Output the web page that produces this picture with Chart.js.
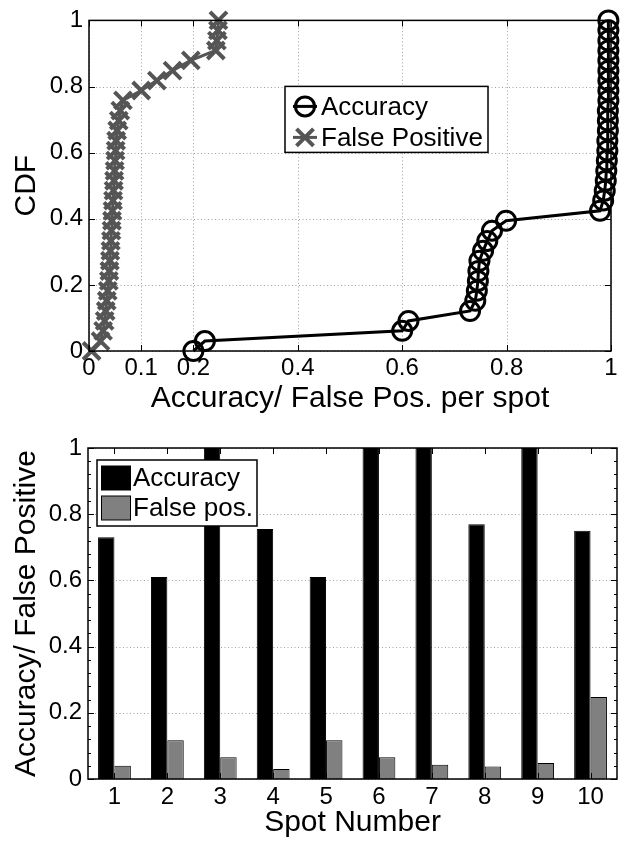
<!DOCTYPE html>
<html>
<head>
<meta charset="utf-8">
<script src="https://cdn.jsdelivr.net/npm/chart.js@4.4.1/dist/chart.umd.min.js"></script>
<style>
  html, body { margin:0; padding:0; background:#fff; }
  #wrap { position:relative; width:627px; height:841px; }
  canvas { position:absolute; left:0; }
  #cdf { top:0; }
  #bars { top:417px; }
</style>
</head>
<body>
<div id="wrap">
  <canvas id="cdf" width="627" height="417"></canvas>
  <canvas id="bars" width="627" height="424"></canvas>
</div>
<script>
// --- top plot: CDF of accuracy / false positives per spot
const CDF_LEVELS = [0, 0.03, 0.061, 0.091, 0.121, 0.152, 0.182, 0.212, 0.242, 0.273, 0.303, 0.333,
  0.364, 0.394, 0.424, 0.455, 0.485, 0.515, 0.545, 0.576, 0.606, 0.636, 0.667, 0.697, 0.727,
  0.758, 0.788, 0.818, 0.848, 0.879, 0.909, 0.939, 0.97, 1];
const ACC_X = [0.20, 0.222, 0.60, 0.612, 0.730, 0.740, 0.743, 0.745, 0.746, 0.748, 0.755, 0.763,
  0.772, 0.799, 0.979, 0.985, 0.988, 0.990, 0.991, 0.992, 0.993, 0.993, 0.994, 0.994, 0.994,
  0.995, 0.995, 0.995, 0.995, 0.995, 0.995, 0.995, 0.995, 0.995];
const FP_X = [0.005, 0.022, 0.027, 0.030, 0.032, 0.034, 0.036, 0.038, 0.039, 0.040, 0.041, 0.042,
  0.043, 0.044, 0.045, 0.046, 0.047, 0.048, 0.049, 0.050, 0.051, 0.052, 0.054, 0.057, 0.060,
  0.065, 0.100, 0.130, 0.160, 0.195, 0.243, 0.245, 0.247, 0.248];
const CDF_X_TICKS = [0, 0.1, 0.2, 0.4, 0.6, 0.8, 1];
const Y_TICKS = [0, 0.2, 0.4, 0.6, 0.8, 1];

// --- bottom plot: per spot values
const SPOTS = ['1', '2', '3', '4', '5', '6', '7', '8', '9', '10'];
const ACCURACY = [0.73, 0.61, 1.0, 0.755, 0.61, 1.0, 1.0, 0.77, 1.0, 0.75];
const FALSE_POS = [0.04, 0.117, 0.066, 0.03, 0.117, 0.066, 0.043, 0.038, 0.048, 0.248];

const FONT = "'Liberation Sans', Arial, Helvetica, sans-serif";
Chart.defaults.font.family = FONT;
Chart.defaults.color = '#000';

function el(id){ return document.getElementById(id); }
function fmt(v){ return String(Math.round(v * 100) / 100); }

// matlab-ish axes: dotted grid, box frame, inward ticks
const matlabAxes = {
  id: 'matlabAxes',
  beforeDatasetsDraw(chart, args, o) {
    const {ctx, chartArea: a, scales} = chart;
    ctx.save();
    ctx.strokeStyle = '#a0a0a0';
    ctx.lineWidth = 1;
    ctx.setLineDash([1, 2.5]);
    ctx.beginPath();
    if (o.xGrid) scales.x.ticks.forEach((t, i) => {
      const px = Math.round(scales.x.getPixelForTick(i)) + 0.5;
      ctx.moveTo(px, a.top); ctx.lineTo(px, a.bottom);
    });
    scales.y.ticks.forEach((t, i) => {
      const py = Math.round(scales.y.getPixelForTick(i)) + 0.5;
      ctx.moveTo(a.left, py); ctx.lineTo(a.right, py);
    });
    ctx.stroke();
    ctx.restore();
  },
  afterDatasetsDraw(chart, args, o) {
    const {ctx, chartArea: a, scales} = chart;
    ctx.save();
    ctx.strokeStyle = '#000';
    ctx.lineWidth = 1.5;
    ctx.strokeRect(a.left, a.top, a.right - a.left, a.bottom - a.top);
    ctx.lineWidth = 1;
    ctx.beginPath();
    const L = 6;
    scales.x.ticks.forEach((t, i) => {
      const px = Math.round(scales.x.getPixelForTick(i)) + 0.5;
      ctx.moveTo(px, a.top); ctx.lineTo(px, a.top + L);
      ctx.moveTo(px, a.bottom); ctx.lineTo(px, a.bottom - L);
    });
    scales.y.ticks.forEach((t, i) => {
      const py = Math.round(scales.y.getPixelForTick(i)) + 0.5;
      ctx.moveTo(a.left, py); ctx.lineTo(a.left + L, py);
      ctx.moveTo(a.right, py); ctx.lineTo(a.right - L, py);
    });
    if (o.yMinor) {
      for (let v = scales.y.min; v < scales.y.max; v += o.yMinor) {
        const py = Math.round(scales.y.getPixelForValue(v)) + 0.5;
        ctx.moveTo(a.left, py); ctx.lineTo(a.left + 3, py);
        ctx.moveTo(a.right, py); ctx.lineTo(a.right - 3, py);
      }
    }
    ctx.stroke();
    ctx.restore();
  }
};

// legend box inside the axes
const boxLegend = {
  id: 'boxLegend',
  afterDraw(chart, args, o) {
    const {ctx, chartArea: a} = chart;
    const x0 = a.left + o.dx, y0 = a.top + o.dy;
    ctx.save();
    ctx.fillStyle = '#fff';
    ctx.fillRect(x0, y0, o.w, o.h);
    ctx.strokeStyle = '#000';
    ctx.lineWidth = 1.5;
    ctx.strokeRect(x0, y0, o.w, o.h);
    chart.data.datasets.forEach((ds, i) => {
      const cy = y0 + o.rowTop + i * o.rowGap;
      const mx = x0 + o.markerX;
      if (o.kind === 'bar') {
        ctx.fillStyle = ds.backgroundColor;
        ctx.fillRect(mx - 14.5, cy - 12, 29, 24);
        ctx.lineWidth = 1;
        ctx.strokeStyle = '#000';
        ctx.strokeRect(mx - 14.5, cy - 12, 29, 24);
      } else {
        ctx.strokeStyle = ds.borderColor;
        ctx.lineWidth = 3;
        ctx.beginPath();
        ctx.moveTo(mx - 12, cy); ctx.lineTo(mx + 12, cy);
        ctx.stroke();
        ctx.lineWidth = ds.pointBorderWidth;
        ctx.beginPath();
        if (ds.pointStyle === 'circle') {
          ctx.arc(mx, cy, ds.pointRadius, 0, Math.PI * 2);
        } else {
          const d = ds.pointRadius * Math.SQRT1_2;
          ctx.moveTo(mx - d, cy - d); ctx.lineTo(mx + d, cy + d);
          ctx.moveTo(mx - d, cy + d); ctx.lineTo(mx + d, cy - d);
        }
        ctx.stroke();
      }
      ctx.fillStyle = '#000';
      ctx.font = '26px ' + FONT;
      ctx.textAlign = 'left';
      ctx.textBaseline = 'middle';
      ctx.fillText(ds.label, x0 + o.textX, cy + 1);
    });
    ctx.restore();
  }
};

new Chart(el('cdf'), {
  type: 'scatter',
  data: {
    datasets: [
      {
        label: 'Accuracy',
        data: ACC_X.map((x, i) => ({x, y: CDF_LEVELS[i]})),
        showLine: true, borderColor: '#000', borderWidth: 3,
        pointStyle: 'circle', pointRadius: 9.5, pointBorderWidth: 3,
        pointBorderColor: '#000', pointBackgroundColor: 'rgba(0,0,0,0)',
        clip: false
      },
      {
        label: 'False Positive',
        data: FP_X.map((x, i) => ({x, y: CDF_LEVELS[i]})),
        showLine: true, borderColor: '#555', borderWidth: 3,
        pointStyle: 'crossRot', pointRadius: 12, pointBorderWidth: 4,
        pointBorderColor: '#555', pointBackgroundColor: '#555',
        clip: false
      }
    ]
  },
  options: {
    responsive: false,
    animation: false,
    layout: { padding: { top: 20, right: 9, left: 0, bottom: 0 } },
    plugins: {
      legend: { display: false },
      tooltip: { enabled: false },
      matlabAxes: { xGrid: true },
      boxLegend: { kind: 'line', dx: 196, dy: 66, w: 203, h: 66, rowTop: 20, rowGap: 31, markerX: 20, textX: 36 }
    },
    scales: {
      x: {
        type: 'linear', min: 0, max: 1,
        afterBuildTicks: s => { s.ticks = CDF_X_TICKS.map(v => ({value: v})); },
        afterFit: s => { s.height = 66; },
        grid: { display: false, drawTicks: false },
        border: { display: false },
        ticks: { autoSkip: false, maxRotation: 0, padding: 3, font: { size: 24 }, callback: v => fmt(v) },
        title: { display: true, text: 'Accuracy/ False Pos. per spot', font: { size: 30 }, padding: 0 }
      },
      y: {
        min: 0, max: 1,
        afterBuildTicks: s => { s.ticks = Y_TICKS.map(v => ({value: v})); },
        afterFit: s => { s.width = 89; },
        grid: { display: false, drawTicks: false },
        border: { display: false },
        ticks: { padding: 6, font: { size: 24 }, callback: v => fmt(v) },
        title: { display: true, text: 'CDF', font: { size: 30 }, padding: { top: 9, bottom: 0 } }
      }
    }
  },
  plugins: [matlabAxes, boxLegend]
});

new Chart(el('bars'), {
  type: 'bar',
  data: {
    labels: SPOTS,
    datasets: [
      { label: 'Accuracy', data: ACCURACY, backgroundColor: '#000', borderColor: '#000', borderWidth: 1 },
      { label: 'False pos.', data: FALSE_POS, backgroundColor: '#808080', borderColor: '#000', borderWidth: 1 }
    ]
  },
  options: {
    responsive: false,
    animation: false,
    datasets: { bar: { categoryPercentage: 0.62, barPercentage: 1 } },
    layout: { padding: { top: 31, right: 10, left: 0, bottom: 0 } },
    plugins: {
      legend: { display: false },
      tooltip: { enabled: false },
      matlabAxes: { xGrid: false, yMinor: 0.04 },
      boxLegend: { kind: 'bar', dx: 9, dy: 12, w: 160, h: 66, rowTop: 18, rowGap: 30, markerX: 19, textX: 36 }
    },
    scales: {
      x: {
        afterFit: s => { s.height = 62; },
        grid: { display: false, drawTicks: false },
        border: { display: false },
        ticks: { autoSkip: false, maxRotation: 0, padding: 4, font: { size: 24 } },
        title: { display: true, text: 'Spot Number', font: { size: 30 }, padding: 0 }
      },
      y: {
        min: 0, max: 1,
        afterBuildTicks: s => { s.ticks = Y_TICKS.map(v => ({value: v})); },
        afterFit: s => { s.width = 88; },
        grid: { display: false, drawTicks: false },
        border: { display: false },
        ticks: { padding: 6, font: { size: 24 }, callback: v => fmt(v) },
        title: { display: true, text: 'Accuracy/ False Positive', font: { size: 30 }, padding: { top: 9, bottom: 0 } }
      }
    }
  },
  plugins: [matlabAxes, boxLegend]
});
</script>
</body>
</html>
